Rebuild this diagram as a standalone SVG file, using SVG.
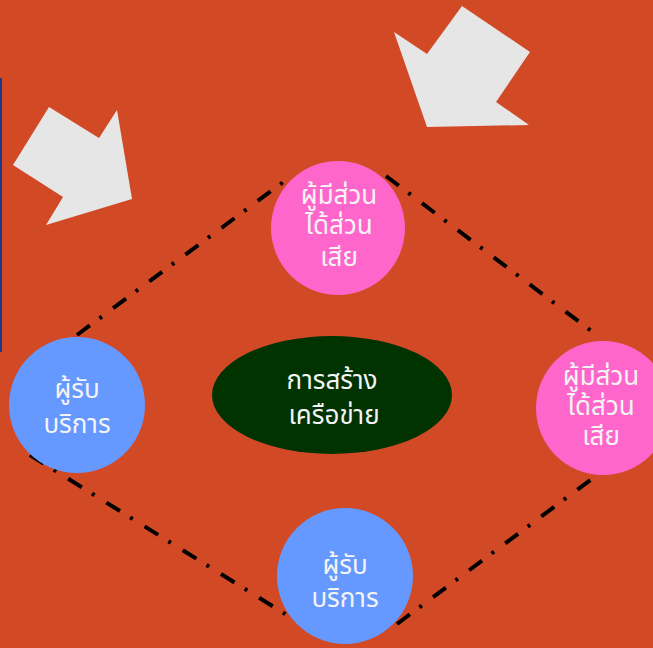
<svg xmlns="http://www.w3.org/2000/svg" width="653" height="648" viewBox="0 0 653 648">
  <style>
    .arrow { fill: #E6E6E6; }
    .link { fill: none; stroke: #000; stroke-width: 4; stroke-dasharray: 16 12 3 14; }
    .stake { fill: #FF66CC; }
    .client { fill: #6699FF; }
    .hub { fill: #003300; }
    .label { font-family: "Noto Sans Thai", "Noto Sans", "DejaVu Sans", sans-serif; font-size: 26px; fill: #F4F4F4; text-anchor: middle; }
  </style>

  <!-- background -->
  <rect x="0" y="0" width="653" height="648" fill="#D24926"/>
  <rect x="0" y="78" width="2" height="274" fill="#1B3A8C"/>

  <!-- block arrows -->
  <polygon class="arrow" points="49,107 99,138 117,110 132,199 46,225 63,197 13,165"/>
  <polygon class="arrow" points="462,6 530,52 496,102 529,125 427,127 394,32 427,54"/>

  <!-- dash-dot connectors -->
  <g id="connectors">
    <line class="link" x1="77" y1="335" x2="286" y2="180"/>
    <line class="link" x1="386" y1="176" x2="594" y2="333"/>
    <line class="link" x1="30" y1="455" x2="290" y2="617"/>
    <line class="link" x1="397" y1="624" x2="593" y2="478"/>
  </g>

  <g id="stakeholder-top">
    <circle class="stake" cx="338" cy="228" r="67"/>
    <text class="label" x="339" y="204">ผู้มีส่วน</text>
    <text class="label" x="339" y="234">ได้ส่วน</text>
    <text class="label" x="339" y="266">เสีย</text>
  </g>

  <g id="stakeholder-right">
    <circle class="stake" cx="603" cy="408" r="67"/>
    <text class="label" x="601" y="385">ผู้มีส่วน</text>
    <text class="label" x="601" y="415">ได้ส่วน</text>
    <text class="label" x="601" y="445">เสีย</text>
  </g>

  <g id="client-left">
    <circle class="client" cx="77" cy="405" r="68"/>
    <text class="label" x="77" y="398">ผู้รับ</text>
    <text class="label" x="77" y="433">บริการ</text>
  </g>

  <g id="client-bottom">
    <circle class="client" cx="345" cy="576" r="68"/>
    <text class="label" x="345" y="574">ผู้รับ</text>
    <text class="label" x="345" y="607">บริการ</text>
  </g>

  <g id="network-hub">
    <ellipse class="hub" cx="332" cy="395" rx="120" ry="59"/>
    <text class="label" x="332" y="389">การสร้าง</text>
    <text class="label" x="334" y="424">เครือข่าย</text>
  </g>
</svg>
